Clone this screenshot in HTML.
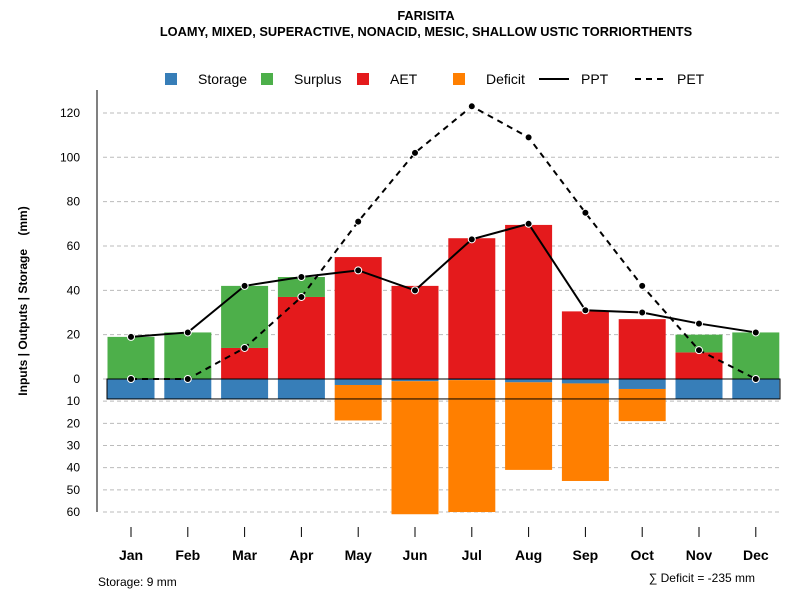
<!DOCTYPE html>
<html><head><meta charset="utf-8"><style>
body{margin:0;background:#fff;font-family:"Liberation Sans",sans-serif}
svg text{font-family:"Liberation Sans",sans-serif}
</style></head><body>
<svg id="c" width="800" height="600" xmlns="http://www.w3.org/2000/svg">
<text x="426" y="20" text-anchor="middle" font-size="12.8" font-weight="bold">FARISITA</text>
<text x="426" y="36" text-anchor="middle" font-size="12.8" font-weight="bold">LOAMY, MIXED, SUPERACTIVE, NONACID, MESIC, SHALLOW USTIC TORRIORTHENTS</text>
<g>
<rect x="165" y="73" width="12" height="12" fill="#377EB8"/>
<text x="198" y="84" font-size="14">Storage</text>
<rect x="261" y="73" width="12" height="12" fill="#4DAF4A"/>
<text x="294" y="84" font-size="14">Surplus</text>
<rect x="357" y="73" width="12" height="12" fill="#E41A1C"/>
<text x="390" y="84" font-size="14">AET</text>
<rect x="453" y="73" width="12" height="12" fill="#FF7F00"/>
<text x="486" y="84" font-size="14">Deficit</text>
<line x1="539" y1="79" x2="569" y2="79" stroke="#000" stroke-width="2"/>
<text x="581" y="84" font-size="14">PPT</text>
<line x1="635" y1="79" x2="665" y2="79" stroke="#000" stroke-width="2" stroke-dasharray="6,5"/>
<text x="677" y="84" font-size="14">PET</text>
</g>
<text transform="translate(27,301) rotate(-90)" text-anchor="middle" font-size="12" font-weight="bold" xml:space="preserve" style="white-space:pre">Inputs | Outputs | Storage    (mm)</text>
<g id="grid"></g><g id="bars"></g><g id="lines"></g><g id="axes"></g>
<text x="98" y="586" font-size="12">Storage: 9 mm</text>
<text x="755" y="582" text-anchor="end" font-size="12">∑ Deficit = -235 mm</text>
</svg>
<script>
const months=["Jan","Feb","Mar","Apr","May","Jun","Jul","Aug","Sep","Oct","Nov","Dec"];
const ppt=[19,21,42,46,49,40,63,70,31,30,25,21];
const pet=[0,0,14,37,71,102,123,109,75,42,13,0];
const aet=[0,0,14,37,55,42,63.5,69.5,30.5,27,12,0];
const surplus=[19,21,28,9,0,0,0,0,0,0,8,21];
const storage=[9,9,9,9,2.7,1,0.5,1.5,2,4.5,9,9];
const deficit=[0,0,0,0,16,60,59.5,39.5,44,14.5,0,0];
const upTicks=[0,20,40,60,80,100,120];
const downTicks=[10,20,30,40,50,60];
const capacity=9;
const NS="http://www.w3.org/2000/svg";
const y0=379,k=2.217;
const yUp=v=>y0-v*k, yDn=v=>y0+v*k;
const xc=i=>131+i*56.8;
const bw=47;
function mk(t,a,p){const e=document.createElementNS(NS,t);for(const n in a)e.setAttribute(n,a[n]);document.getElementById(p).appendChild(e);return e;}
upTicks.forEach(v=>{
 const l=mk("line",{x1:103,x2:780,y1:yUp(v),y2:yUp(v),stroke:"#bbb","stroke-dasharray":"4,3"},"grid");
 
 
 const t=mk("text",{x:80,y:yUp(v)+4,"text-anchor":"end","font-size":12},"axes");t.textContent=v;
 
 
});
downTicks.forEach(v=>{
 const l=mk("line",{x1:103,x2:780,y1:yDn(v),y2:yDn(v),stroke:"#bbb","stroke-dasharray":"4,3"},"grid");
 
 
 const t=mk("text",{x:80,y:yDn(v)+4,"text-anchor":"end","font-size":12},"axes");t.textContent=v;
 
 
});
const ax=mk("line",{x1:97,x2:97,y1:90,y2:yDn(60),stroke:"#000"},"axes");


months.forEach((m,i)=>{
 const x=xc(i)-bw/2;
 const a=mk("rect",{x:x,y:yUp(aet[i]),width:bw,height:aet[i]*k,fill:"#E41A1C"},"bars");
 
 
 const s=mk("rect",{x:x,y:yUp(aet[i]+surplus[i]),width:bw,height:surplus[i]*k,fill:"#4DAF4A"},"bars");
 
 
 const st=mk("rect",{x:x,y:y0,width:bw,height:storage[i]*k,fill:"#377EB8"},"bars");
 
 
 const d=mk("rect",{x:x,y:yDn(storage[i]),width:bw,height:deficit[i]*k,fill:"#FF7F00"},"bars");
 
 
 const tk=mk("line",{x1:xc(i),x2:xc(i),y1:527,y2:537,stroke:"#000"},"axes");
 
 
 const t=mk("text",{x:xc(i),y:560,"text-anchor":"middle","font-size":14,"font-weight":"bold"},"axes");t.textContent=m;
 
 
});
const box=mk("rect",{x:107,y:y0,width:673,height:capacity*k,fill:"none",stroke:"#000"},"bars");


function series(vals,dash,name){
 const p=mk("polyline",{points:vals.map((v,i)=>xc(i)+","+yUp(v)).join(" "),fill:"none",stroke:"#000","stroke-width":2,"stroke-dasharray":dash},"lines");
 
 
 vals.forEach((v,i)=>{
  const c=mk("circle",{cx:xc(i),cy:yUp(v),r:3.5,fill:"#000",stroke:"#fff","stroke-width":1},"lines");
  
  
 });
}
series(pet,"6,5","pet");
series(ppt,"none","ppt");
</script>
</body></html>
